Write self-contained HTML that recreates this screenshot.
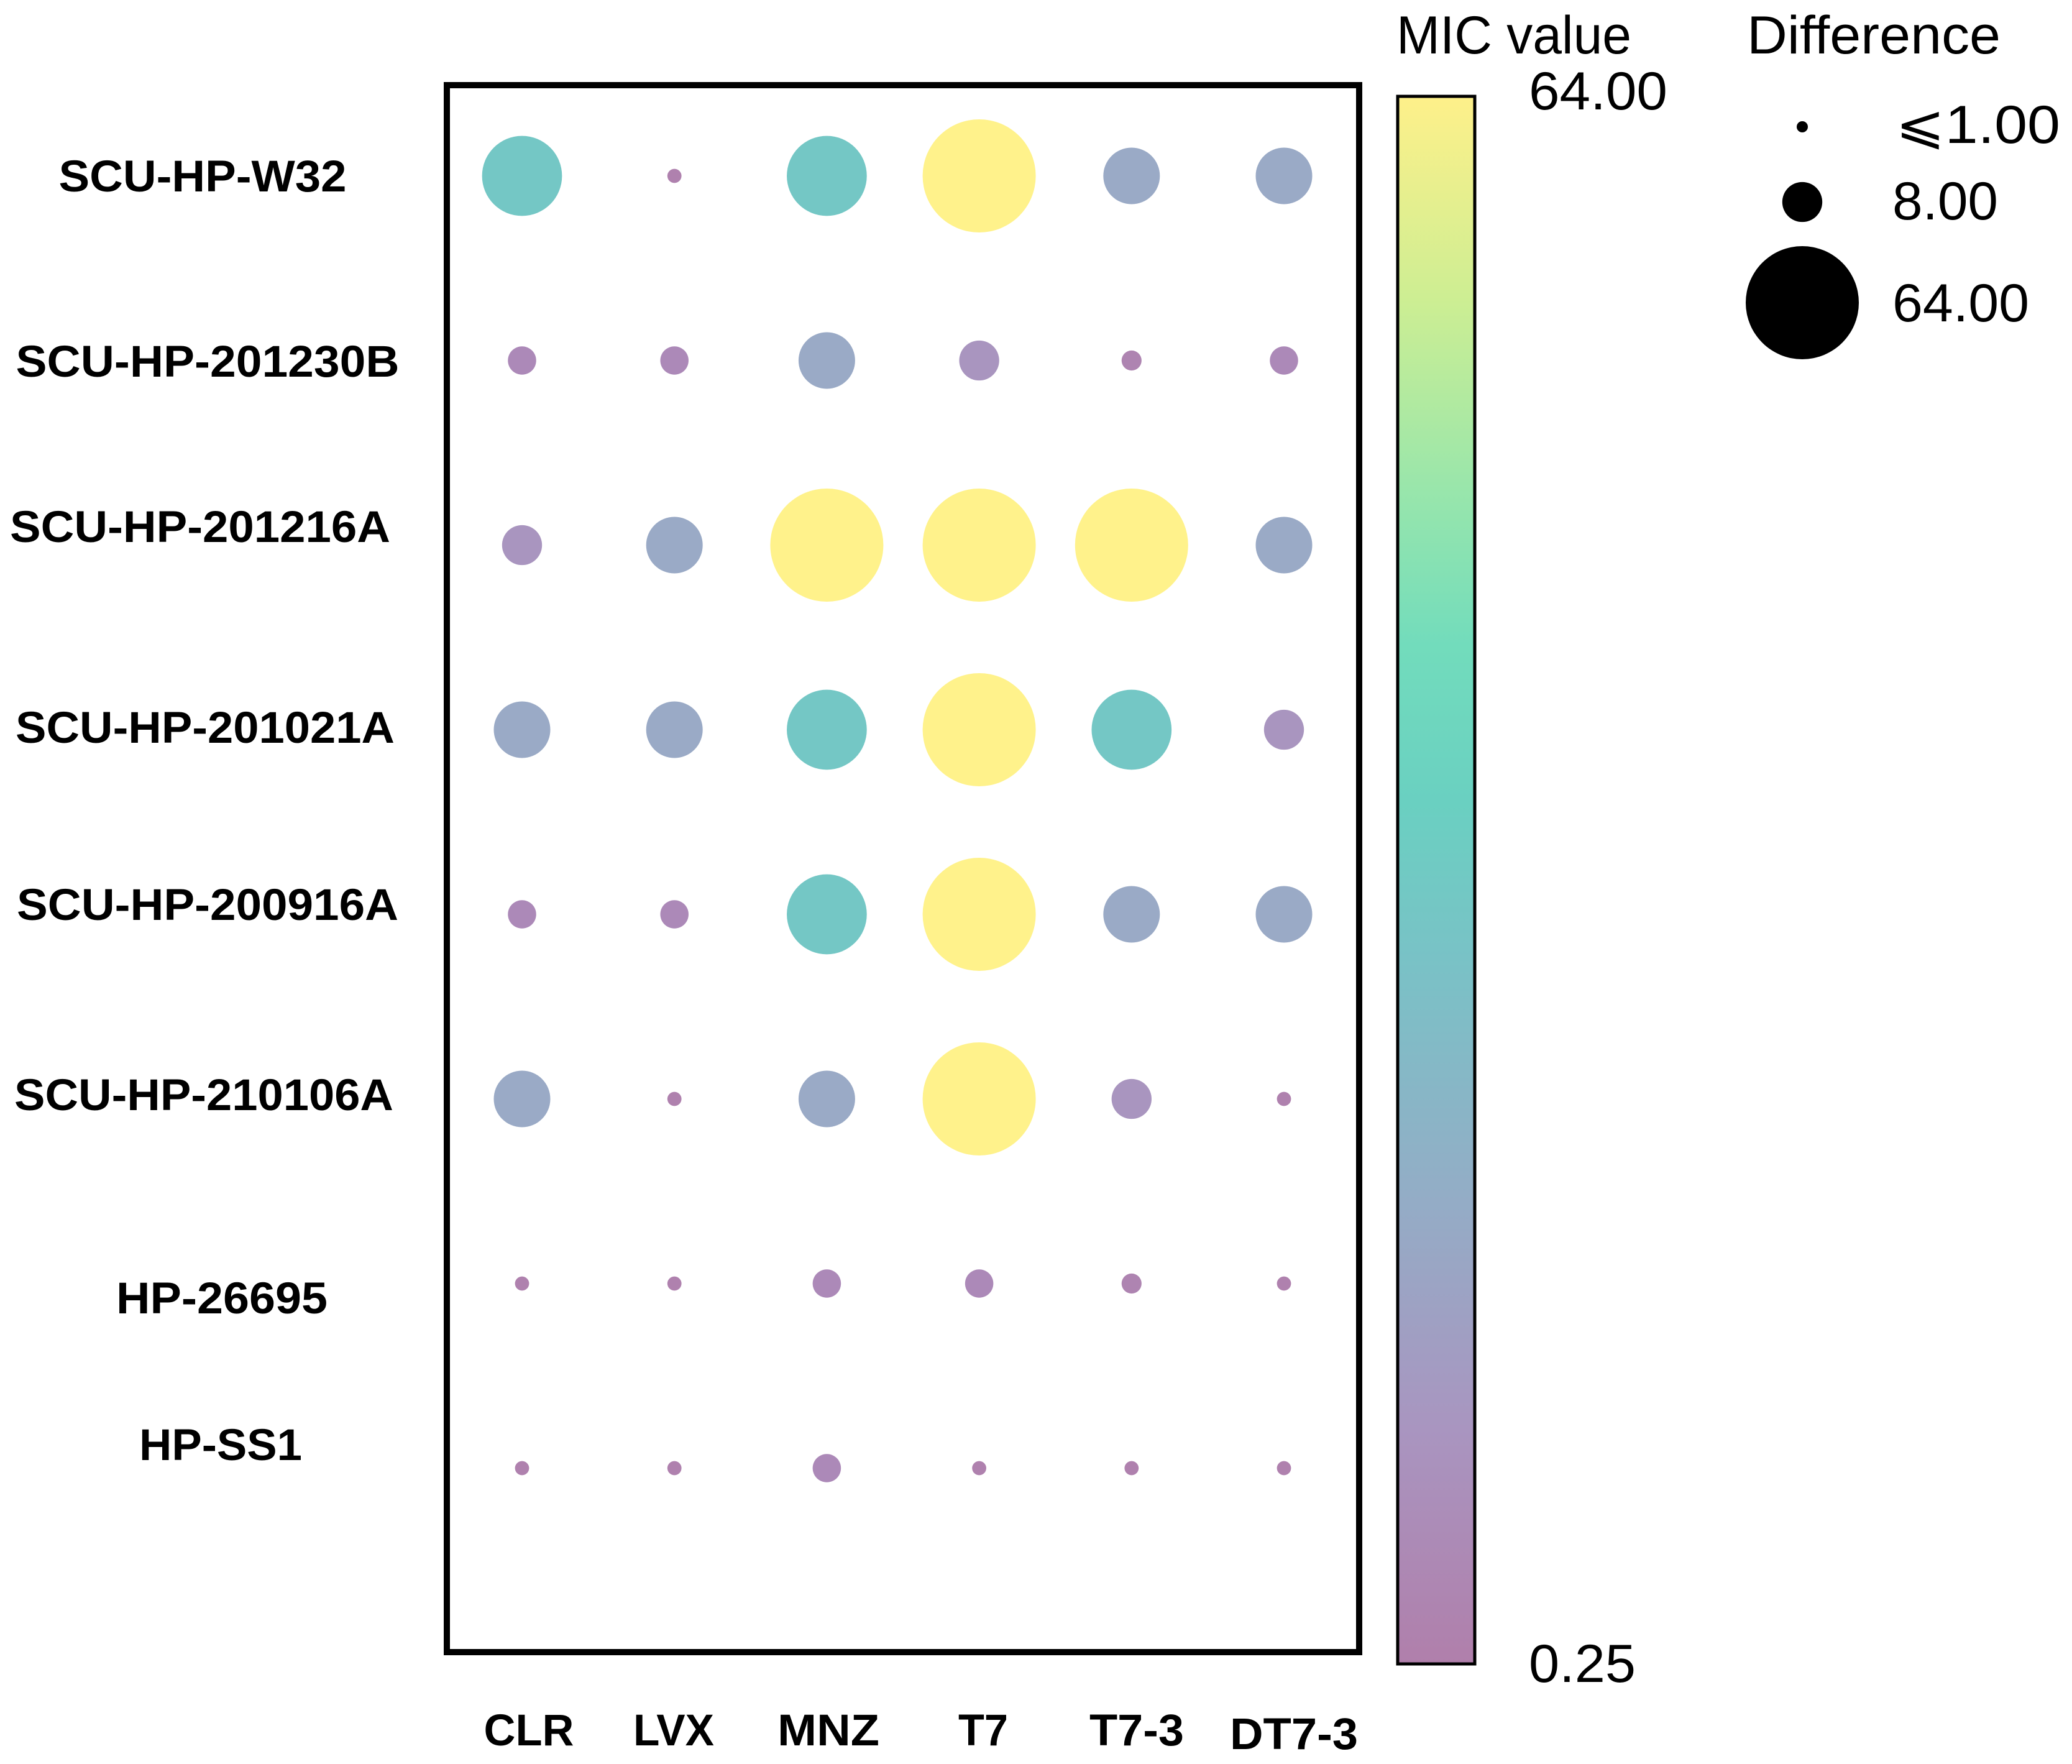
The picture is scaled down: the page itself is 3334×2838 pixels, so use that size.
<!DOCTYPE html>
<html><head><meta charset="utf-8"><style>
html,body{margin:0;padding:0;background:#fff;}
svg{display:block;}
.rl{font-family:"Liberation Sans",sans-serif;font-weight:bold;font-size:71px;fill:#000;}
.lg{font-family:"Liberation Sans","DejaVu Sans",sans-serif;font-size:86px;fill:#000;}
</style></head><body>
<svg id="chart" width="3334" height="2838" viewBox="0 0 3334 2838" xmlns="http://www.w3.org/2000/svg">
<defs>
<linearGradient id="cb" x1="0" y1="1" x2="0" y2="0">
<stop offset="0" stop-color="#b07fab"/>
<stop offset="0.15" stop-color="#a995c0"/>
<stop offset="0.3" stop-color="#93adc6"/>
<stop offset="0.45" stop-color="#79c2c6"/>
<stop offset="0.55" stop-color="#6ad0c1"/>
<stop offset="0.65" stop-color="#72dcbc"/>
<stop offset="0.75" stop-color="#99e6ab"/>
<stop offset="0.87" stop-color="#cdee93"/>
<stop offset="1" stop-color="#fef08a"/>
</linearGradient>
</defs>
<rect x="719" y="137" width="1468" height="2521" fill="none" stroke="#000" stroke-width="10"/>
<g id="dots"></g>
<g id="labels"></g>
<rect x="2249" y="155" width="124" height="2522" fill="url(#cb)" stroke="#000" stroke-width="5"/>
<text class="lg" x="2247" y="86" textLength="378" lengthAdjust="spacingAndGlyphs">MIC value</text>
<text class="lg" x="2460" y="176" textLength="223" lengthAdjust="spacingAndGlyphs">64.00</text>
<text class="lg" x="2460" y="2706" textLength="172" lengthAdjust="spacingAndGlyphs">0.25</text>
<text class="lg" x="2811" y="86" textLength="408" lengthAdjust="spacingAndGlyphs">Difference</text>
<g id="sizeLegend"></g>
</svg>
<script>
const rows = ["SCU-HP-W32","SCU-HP-201230B","SCU-HP-201216A","SCU-HP-201021A","SCU-HP-200916A","SCU-HP-210106A","HP-26695","HP-SS1"];
const cols = ["CLR","LVX","MNZ","T7","T7-3","DT7-3"];
const vW32 = [32,1,32,64,16,16];
const v201230B = [4,4,16,8,2,4];
const v201216A = [8,16,64,64,64,16];
const v201021A = [16,16,32,64,32,8];
const v200916A = [4,4,32,64,16,16];
const v210106A = [16,1,16,64,8,1];
const v26695 = [1,1,4,4,2,1];
const vSS1 = [1,1,4,1,1,1];
const legendValues = [1,8,64];
const legendLabels = ["\u2A7D1.00","8.00","64.00"];

const values = [vW32,v201230B,v201216A,v201021A,v200916A,v210106A,v26695,vSS1];
const NS = "http://www.w3.org/2000/svg";
const xPos = i => 840 + i * 245.2;
const yPos = j => 283 + j * 297;
const rScale = v => 91 * Math.sqrt(v / 64);
const stops = [[0,[176,127,171]],[0.06,[172,137,184]],[0.13,[169,151,192]],[0.25,[154,170,198]],[0.5,[116,199,197]],[0.65,[114,220,188]],[0.75,[153,230,171]],[0.87,[205,238,147]],[1,[255,242,139]]];
function color(v){
  const t = Math.max(0, Math.min(1, (v - 0.25) / (64 - 0.25)));
  for (let k = 1; k < stops.length; k++) {
    if (t <= stops[k][0]) {
      const a = stops[k-1], b = stops[k], f = (t - a[0]) / (b[0] - a[0]);
      const c = a[1].map((x, i) => Math.round(x + (b[1][i] - x) * f));
      return "rgb(" + c.join(",") + ")";
    }
  }
  return "rgb(255,242,139)";
}
const dots = document.getElementById("dots");
values.forEach((arr, j) => {
  arr.forEach((v, i) => {
    const c = document.createElementNS(NS, "ellipse");
    c.setAttribute("cx", xPos(i));
    c.setAttribute("cy", yPos(j));
    c.setAttribute("rx", rScale(v));
    c.setAttribute("ry", rScale(v));
    c.setAttribute("fill", color(v));
    
    
    dots.appendChild(c);
  });
});
const labels = document.getElementById("labels");
const rowLabelY = [308,606,872,1195,1480,1786,2113,2349];
const rowLabelX = [326,334,322,330,334,328,357,355];
const rowLabelW = [463,617,612,610,614,610,340,262];
rows.forEach((r, j) => {
  const t = document.createElementNS(NS, "text");
  t.setAttribute("x", rowLabelX[j]);
  t.setAttribute("y", rowLabelY[j]);
  t.setAttribute("text-anchor", "middle");
  t.setAttribute("class", "rl");
  t.setAttribute("textLength", rowLabelW[j]);
  t.setAttribute("lengthAdjust", "spacingAndGlyphs");
  t.textContent = r;
  
  
  labels.appendChild(t);
});
const colLabelX = [851,1084,1333,1582,1829,2082];
const colLabelW = [145,130,164,80,152,206];
cols.forEach((c, i) => {
  const t = document.createElementNS(NS, "text");
  t.setAttribute("x", colLabelX[i]);
  t.setAttribute("y", i === 5 ? 2814 : 2808);
  t.setAttribute("text-anchor", "middle");
  t.setAttribute("class", "rl");
  t.setAttribute("textLength", colLabelW[i]);
  t.setAttribute("lengthAdjust", "spacingAndGlyphs");
  t.textContent = c;
  
  
  labels.appendChild(t);
});
const sl = document.getElementById("sizeLegend");
const legY = [204,325,487];
const legTY = [230,353,517];
const legW = [265,170,220];
const legX = [3050,3045,3045];
legendValues.forEach((v, k) => {
  const c = document.createElementNS(NS, "circle");
  c.setAttribute("cx", 2900);
  c.setAttribute("cy", legY[k]);
  c.setAttribute("r", k === 0 ? 9 : rScale(v));
  c.setAttribute("fill", "#000");
  
  
  sl.appendChild(c);
  const t = document.createElementNS(NS, "text");
  t.setAttribute("x", legX[k]);
  t.setAttribute("y", legTY[k]);
  t.setAttribute("class", "lg");
  t.setAttribute("textLength", legW[k]);
  t.setAttribute("lengthAdjust", "spacingAndGlyphs");
  t.textContent = legendLabels[k];
  
  
  sl.appendChild(t);
});
</script>
</body></html>
